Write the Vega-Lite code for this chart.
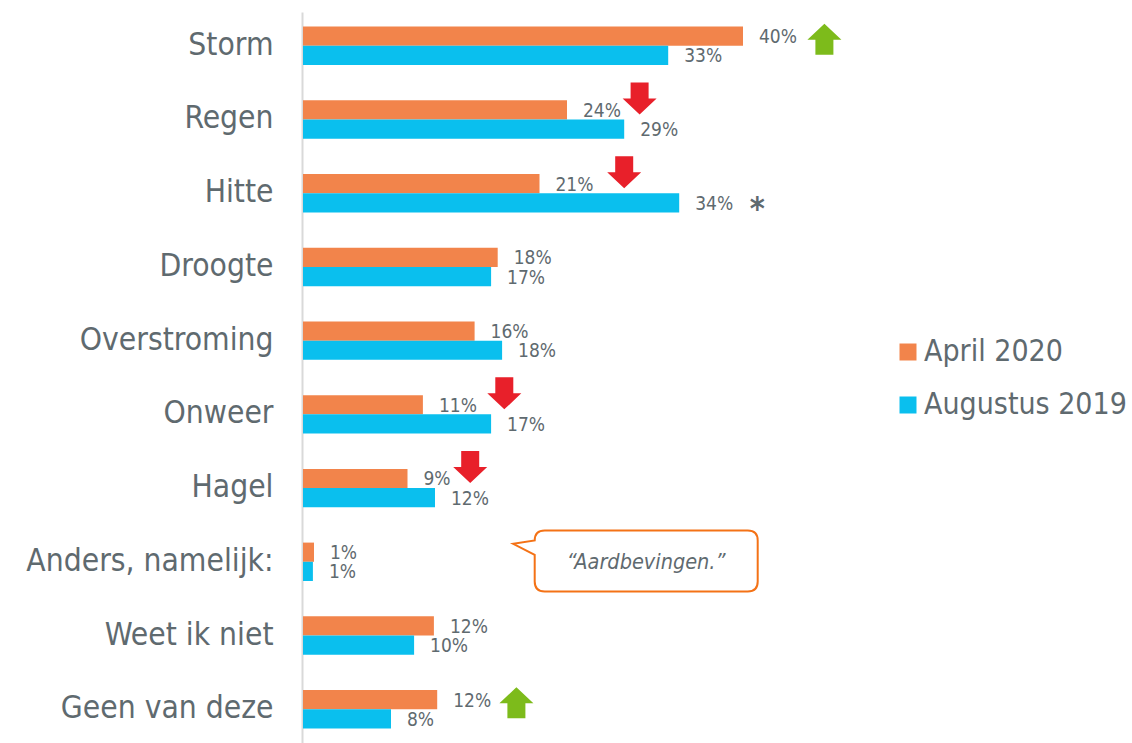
{
  "$schema": "https://vega.github.io/schema/vega-lite/v6.json",
  "width": 550,
  "height": 731,
  "autosize": {"type": "none"},
  "padding": {"left": 303, "top": 12, "right": 279, "bottom": 0},
  "background": "white",
  "config": {
    "font": "DejaVu Sans Condensed, DejaVu Sans",
    "view": {"stroke": null}
  },
  "datasets": {
    "metingen": [
      {"Categorie": "Storm", "Meting": "April 2020", "Percentage": 40.0, "Label": "40%"},
      {"Categorie": "Storm", "Meting": "Augustus 2019", "Percentage": 33.2, "Label": "33%"},
      {"Categorie": "Regen", "Meting": "April 2020", "Percentage": 24.0, "Label": "24%"},
      {"Categorie": "Regen", "Meting": "Augustus 2019", "Percentage": 29.2, "Label": "29%"},
      {"Categorie": "Hitte", "Meting": "April 2020", "Percentage": 21.5, "Label": "21%"},
      {"Categorie": "Hitte", "Meting": "Augustus 2019", "Percentage": 34.2, "Label": "34%"},
      {"Categorie": "Droogte", "Meting": "April 2020", "Percentage": 17.7, "Label": "18%"},
      {"Categorie": "Droogte", "Meting": "Augustus 2019", "Percentage": 17.1, "Label": "17%"},
      {"Categorie": "Overstroming", "Meting": "April 2020", "Percentage": 15.6, "Label": "16%"},
      {"Categorie": "Overstroming", "Meting": "Augustus 2019", "Percentage": 18.1, "Label": "18%"},
      {"Categorie": "Onweer", "Meting": "April 2020", "Percentage": 10.9, "Label": "11%"},
      {"Categorie": "Onweer", "Meting": "Augustus 2019", "Percentage": 17.1, "Label": "17%"},
      {"Categorie": "Hagel", "Meting": "April 2020", "Percentage": 9.5, "Label": "9%"},
      {"Categorie": "Hagel", "Meting": "Augustus 2019", "Percentage": 12.0, "Label": "12%"},
      {"Categorie": "Anders, namelijk:", "Meting": "April 2020", "Percentage": 1.0, "Label": "1%"},
      {"Categorie": "Anders, namelijk:", "Meting": "Augustus 2019", "Percentage": 0.9, "Label": "1%"},
      {"Categorie": "Weet ik niet", "Meting": "April 2020", "Percentage": 11.9, "Label": "12%"},
      {"Categorie": "Weet ik niet", "Meting": "Augustus 2019", "Percentage": 10.1, "Label": "10%"},
      {"Categorie": "Geen van deze", "Meting": "April 2020", "Percentage": 12.2, "Label": "12%"},
      {"Categorie": "Geen van deze", "Meting": "Augustus 2019", "Percentage": 8.0, "Label": "8%"}
    ],
    "trends": [
      {"Categorie": "Storm", "Trend": "stijging", "Positie": 47.4},
      {"Categorie": "Regen", "Trend": "daling", "Positie": 30.6},
      {"Categorie": "Hitte", "Trend": "daling", "Positie": 29.2},
      {"Categorie": "Onweer", "Trend": "daling", "Positie": 18.3},
      {"Categorie": "Hagel", "Trend": "daling", "Positie": 15.2},
      {"Categorie": "Geen van deze", "Trend": "stijging", "Positie": 19.4}
    ],
    "notities": [
      {"Categorie": "Anders, namelijk:", "Meting": "April 2020", "Soort": "citaat", "Tekst": "“Aardbevingen.”", "Positie": 31.2},
      {"Categorie": "Hitte", "Meting": "Augustus 2019", "Soort": "significant", "Tekst": "*", "Positie": 41.3}
    ]
  },
  "encoding": {
    "y": {
      "field": "Categorie",
      "type": "nominal",
      "sort": ["Storm", "Regen", "Hitte", "Droogte", "Overstroming", "Onweer", "Hagel", "Anders, namelijk:", "Weet ik niet", "Geen van deze"],
      "scale": {"paddingInner": 0.479, "paddingOuter": 0.1975},
      "axis": {
        "title": null,
        "ticks": false,
        "tickSize": 0,
        "domainColor": "#d9d9d9",
        "domainWidth": 2,
        "offset": 1,
        "labelFontSize": 31.5,
        "labelColor": "#5f6a6f",
        "labelPadding": 29,
        "labelLimit": 400,
        "grid": false
      }
    }
  },
  "layer": [
    {
      "data": {"name": "metingen"},
      "mark": {"type": "bar"},
      "encoding": {
        "x": {"field": "Percentage", "type": "quantitative", "scale": {"domain": [0, 50]}, "axis": null},
        "yOffset": {"field": "Meting", "type": "nominal", "sort": ["April 2020", "Augustus 2019"], "scale": {"paddingInner": 0, "paddingOuter": 0}},
        "color": {
          "field": "Meting",
          "type": "nominal",
          "sort": ["April 2020", "Augustus 2019"],
          "scale": {"domain": ["April 2020", "Augustus 2019"], "range": ["#F2844B", "#0ABFEE"]},
          "legend": {
            "orient": "none",
            "legendX": 590,
            "legendY": 325,
            "title": null,
            "symbolType": "square",
            "symbolSize": 289,
            "symbolStrokeWidth": 0,
            "labelFontSize": 30,
            "labelColor": "#5f6a6f",
            "labelOffset": 1,
            "rowPadding": 23,
            "padding": 0,
            "labelLimit": 400
          }
        }
      }
    },
    {
      "data": {"name": "metingen"},
      "mark": {"type": "text", "align": "left", "baseline": "middle", "dx": 16, "dy": 1, "fontSize": 19, "color": "#5f6a6f"},
      "encoding": {
        "x": {"field": "Percentage", "type": "quantitative", "scale": {"domain": [0, 50]}, "axis": null},
        "yOffset": {"field": "Meting", "type": "nominal", "sort": ["April 2020", "Augustus 2019"], "scale": {"paddingInner": 0, "paddingOuter": 0}},
        "text": {"field": "Label", "type": "nominal"}
      }
    },
    {
      "data": {"name": "trends"},
      "mark": {"type": "point", "filled": true, "size": 4, "opacity": 1, "strokeWidth": 0},
      "encoding": {
        "x": {"field": "Positie", "type": "quantitative", "scale": {"domain": [0, 50]}, "axis": null},
        "shape": {
          "field": "Trend",
          "type": "nominal",
          "scale": {
            "domain": ["stijging", "daling"],
            "range": [
              "M0,-22 L17,-6 L9,-6 L9,9 L-9,9 L-9,-6 L-17,-6 Z",
              "M-9,-37 L9,-37 L9,-21 L17,-21 L0,-5 L-17,-21 L-9,-21 Z"
            ]
          },
          "legend": null
        },
        "fill": {
          "field": "Trend",
          "type": "nominal",
          "scale": {"domain": ["stijging", "daling"], "range": ["#7DBB1B", "#E8202A"]},
          "legend": null
        }
      }
    },
    {
      "data": {"name": "notities"},
      "transform": [{"filter": "datum.Soort === 'citaat'"}],
      "mark": {
        "type": "point",
        "shape": "M-101.5,-31.3 L101.5,-31.3 Q111.5,-31.3 111.5,-21.3 L111.5,19.7 Q111.5,29.7 101.5,29.7 L-101.5,29.7 Q-111.5,29.7 -111.5,19.7 L-111.5,-7 L-133,-18 L-111.5,-21.3 Q-111.5,-31.3 -101.5,-31.3 Z",
        "size": 4,
        "filled": true,
        "fill": "white",
        "stroke": "#F47216",
        "strokeWidth": 2,
        "opacity": 1,
        "fillOpacity": 1,
        "strokeOpacity": 1
      },
      "encoding": {
        "x": {"field": "Positie", "type": "quantitative", "scale": {"domain": [0, 50]}, "axis": null}
      }
    },
    {
      "data": {"name": "notities"},
      "transform": [{"filter": "datum.Soort === 'citaat'"}],
      "mark": {"type": "text", "align": "center", "baseline": "middle", "fontSize": 21.5, "fontStyle": "italic", "color": "#5f6a6f", "dy": 1},
      "encoding": {
        "x": {"field": "Positie", "type": "quantitative", "scale": {"domain": [0, 50]}, "axis": null},
        "text": {"field": "Tekst", "type": "nominal"}
      }
    },
    {
      "data": {"name": "notities"},
      "transform": [{"filter": "datum.Soort === 'significant'"}],
      "mark": {"type": "text", "align": "center", "baseline": "middle", "fontSize": 32, "fontWeight": "bold", "color": "#5f6a6f", "dy": 6},
      "encoding": {
        "x": {"field": "Positie", "type": "quantitative", "scale": {"domain": [0, 50]}, "axis": null},
        "yOffset": {"field": "Meting", "type": "nominal", "sort": ["April 2020", "Augustus 2019"], "scale": {"paddingInner": 0, "paddingOuter": 0}},
        "text": {"field": "Tekst", "type": "nominal"}
      }
    }
  ]
}
